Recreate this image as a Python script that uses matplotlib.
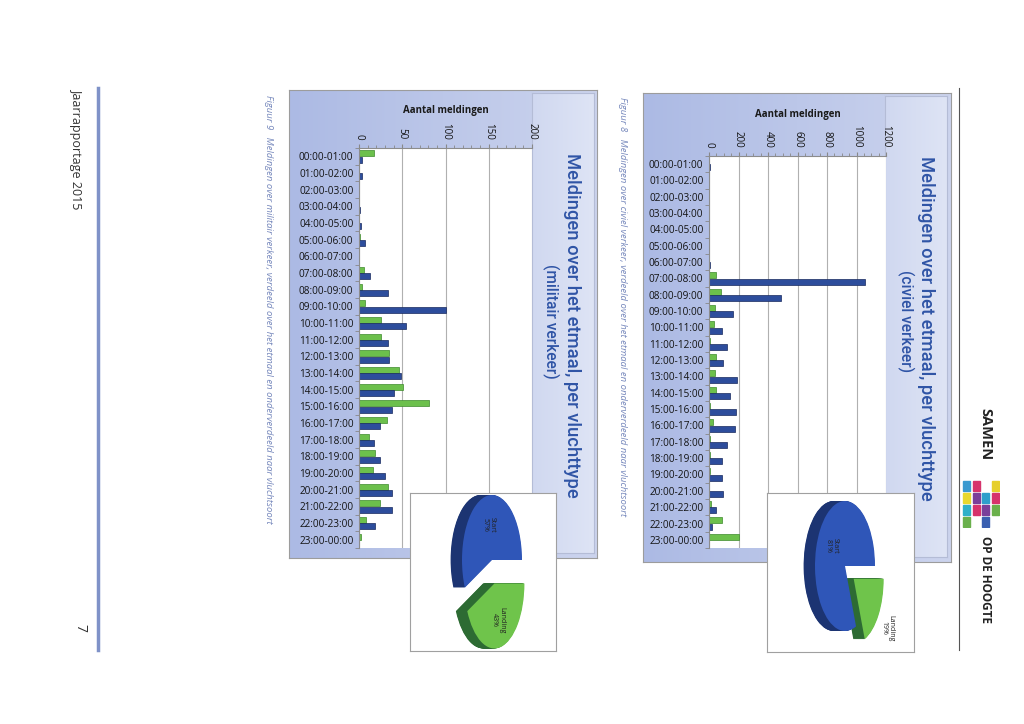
import numpy as np
import matplotlib.pyplot as plt
from matplotlib.lines import Line2D
from matplotlib.patches import Rectangle

W, H = 1024, 724

uren = ["00:00-01:00", "01:00-02:00", "02:00-03:00", "03:00-04:00",
        "04:00-05:00", "05:00-06:00", "06:00-07:00", "07:00-08:00",
        "08:00-09:00", "09:00-10:00", "10:00-11:00", "11:00-12:00",
        "12:00-13:00", "13:00-14:00", "14:00-15:00", "15:00-16:00",
        "16:00-17:00", "17:00-18:00", "18:00-19:00", "19:00-20:00",
        "20:00-21:00", "21:00-22:00", "22:00-23:00", "23:00-00:00"]

# civiel verkeer (Start = blauw, Landing = groen)
civiel_start = [5, 0, 0, 0, 0, 0, 5, 1055, 490, 165, 90, 120,
                95, 190, 140, 185, 175, 120, 90, 90, 97, 48, 20, 2]
civiel_landing = [0, 0, 0, 0, 0, 0, 0, 50, 80, 40, 36, 10,
                  50, 40, 45, 10, 30, 5, 10, 10, 3, 12, 88, 200]

# militair verkeer
militair_start = [3.5, 3, 0, 1, 2, 7, 0, 13, 33, 101, 54, 34,
                  35, 48, 41, 38, 24, 17, 24, 30, 38, 38, 18, 0]
militair_landing = [17, 0, 0, 0, 0.5, 1, 0, 5.5, 4, 7, 26, 26,
                    35, 46, 51, 81, 32, 12, 18, 16, 34, 24, 8, 2]

pie_labels = ["Start", "Landing"]
civiel_pie = [81, 19]
militair_pie = [57, 43]

BLUE = "#2d4d9c"
GREEN = "#6cc04c"
TITLE = "#2f54a6"

fig = plt.figure(figsize=(W / 100, H / 100), dpi=100)
fig.patch.set_facecolor("white")


def px_axes(x0, y0, x1, y1, **kw):
    return fig.add_axes([x0 / W, 1 - y1 / H, (x1 - x0) / W, (y1 - y0) / H], **kw)


def px_text(x, y, s, **kw):
    return fig.text(x / W, 1 - y / H, s, **kw)


def panel(x0, y0, x1, y1, c0, c1, z, edge="#9c9c9c"):
    ax = px_axes(x0, y0, x1, y1, zorder=z)
    g = np.linspace(0, 1, 256)[None, :, None]
    img = (1 - g) * np.array(c0) / 255 + g * np.array(c1) / 255
    ax.imshow(img, aspect="auto", extent=[0, 1, 0, 1])
    ax.set_xticks([])
    ax.set_yticks([])
    for s in ax.spines.values():
        s.set_color(edge)
        s.set_linewidth(0.8)
    return ax


def bar_chart(plot, start, landing, xmax, major, minor):
    ax = px_axes(*plot, zorder=2)
    ax.set_facecolor("white")
    y = np.arange(len(uren))
    ax.barh(y - 0.19, landing, height=0.36, color=GREEN,
            edgecolor="#3d8a2c", linewidth=0.5)
    ax.barh(y + 0.19, start, height=0.36, color=BLUE,
            edgecolor="#18295e", linewidth=0.5)
    ax.set_ylim(len(uren) - 0.5, -0.5)
    ax.set_xlim(0, xmax)
    ax.xaxis.tick_top()
    ax.set_xticks(np.arange(0, xmax + 1, major))
    ax.set_xticks(np.arange(0, xmax + 1, minor), minor=True)
    ax.tick_params(axis="x", which="major", labelsize=7, length=3, pad=3,
                   color="#888888", labelrotation=-90)
    ax.tick_params(axis="x", which="minor", length=2, color="#888888")
    ax.set_yticks(y)
    ax.set_yticklabels(uren)
    ax.set_yticks(np.arange(-0.5, len(uren), 1), minor=True)
    ax.tick_params(axis="y", which="major", length=0, labelsize=7.2, pad=4)
    ax.tick_params(axis="y", which="minor", length=3, color="#888888")
    for lab in ax.get_xticklabels() + ax.get_yticklabels():
        lab.set_family("Open Sans")
        lab.set_color("#141414")
    ax.grid(axis="x", which="major", color="#b0b0b0", linewidth=0.8)
    ax.set_axisbelow(True)
    ax.spines["right"].set_visible(False)
    ax.spines["bottom"].set_visible(False)
    ax.spines["left"].set_color("#8c8c8c")
    ax.spines["top"].set_color("#8c8c8c")
    return ax


def pie3d(box, center, values, explode, lab_r):
    x0, y0, x1, y1 = box
    cx, cy = center
    sx, sy = 30.0, 65.0
    ax = px_axes(x0, y0, x1, y1, zorder=3)
    ax.set_facecolor("white")
    tops = ["#2f56b8", "#6fc44b"]
    sides = ["#1c3472", "#2d6b33"]
    ex = [0, explode]
    for d in np.linspace(0.38, 0.02, 24):
        ax.pie(values, center=(-d, 0), colors=sides, explode=ex, startangle=0,
               frame=True, wedgeprops=dict(linewidth=0))
    ax.pie(values, center=(0, 0), colors=tops, explode=ex, startangle=0,
           frame=True, wedgeprops=dict(linewidth=0))
    ax.set_aspect("auto")
    ax.set_xlim((x0 - cx) / sx, (x1 - cx) / sx)
    ax.set_ylim((cy - y1) / sy, (cy - y0) / sy)
    ax.set_xticks([])
    ax.set_yticks([])
    for s in ax.spines.values():
        s.set_color("#a0a0a0")
        s.set_linewidth(0.8)
    a0 = 0.0
    for lab, v, r in zip(pie_labels, values, lab_r):
        mid = np.deg2rad(a0 + v * 3.6 / 2)
        a0 += v * 3.6
        ax.text(r * np.cos(mid), r * np.sin(mid), f"{lab}\n{v}%",
                rotation=-90, ha="center", va="center", fontsize=5,
                color="#222222", family="Open Sans", linespacing=1.0)
    return ax


def figure_block(box, plot, titlebox, start, landing, xmax, major, minor,
                 title_x, sub_x, title_y, subtitle, xlabel_y,
                 pie_box, pie_center, pie_vals, explode, lab_r,
                 cap_x, cap_y, caption):
    panel(*box, (172, 186, 228), (204, 212, 238), z=1)
    panel(*titlebox, (208, 216, 240), (222, 228, 245), z=1.5, edge="#b4bcd6")
    bar_chart(plot, start, landing, xmax, major, minor)
    px_text((plot[0] + plot[2]) / 2, xlabel_y, "Aantal meldingen",
            ha="center", va="center", fontsize=7, fontweight="bold",
            family="Open Sans", color="#1a1a1a")
    px_text(title_x, title_y, "Meldingen over het etmaal, per vluchttype",
            rotation=-90, ha="center", va="center", fontsize=13.2,
            fontweight="medium", family="Roboto", color=TITLE, zorder=5)
    px_text(sub_x, 321, subtitle, rotation=-90, ha="center", va="center",
            fontsize=11.2, fontweight="medium", family="Roboto", color=TITLE,
            zorder=5)
    pie3d(pie_box, pie_center, pie_vals, explode, lab_r)
    px_text(cap_x, cap_y, caption, rotation=-90, ha="center", va="top",
            fontsize=6.8, style="italic", family="Open Sans", color="#7486bb")


figure_block(box=(643, 93, 951, 562), plot=(709, 156, 886, 548),
             titlebox=(885, 96, 947, 557),
             start=civiel_start, landing=civiel_landing,
             xmax=1200, major=200, minor=50,
             title_x=926, sub_x=906, title_y=328, subtitle="(civiel verkeer)",
             xlabel_y=115,
             pie_box=(767, 493, 914, 652), pie_center=(845, 566),
             pie_vals=civiel_pie, explode=0.35, lab_r=[0.55, 1.7],
             cap_x=622, cap_y=97,
             caption="Figuur 8   Meldingen over civiel verkeer, verdeeld over "
                     "het etmaal en onderverdeeld naar vluchtsoort")

figure_block(box=(289, 90, 597, 558), plot=(359, 148, 532, 548),
             titlebox=(532, 93, 594, 553),
             start=militair_start, landing=militair_landing,
             xmax=200, major=50, minor=10,
             title_x=572, sub_x=551, title_y=325, subtitle="(militair verkeer)",
             xlabel_y=111,
             pie_box=(410, 493, 556, 651), pie_center=(492, 560),
             pie_vals=militair_pie, explode=0.37, lab_r=[0.55, 0.95],
             cap_x=268, cap_y=95,
             caption="Figuur 9   Meldingen over militair verkeer, verdeeld over "
                     "het etmaal en onderverdeeld naar vluchtsoort")

# kop- en voettekst van de pagina
px_text(77, 88, "Jaarrapportage 2015", rotation=-90, ha="center", va="top",
        fontsize=9, family="Open Sans", color="#333333")
px_text(80, 628, "7", rotation=-90, ha="center", va="center",
        fontsize=10, family="Open Sans", color="#333333")
fig.add_artist(Line2D([98 / W, 98 / W], [1 - 88 / H, 1 - 650 / H],
                      transform=fig.transFigure, color="#7f92c8", lw=2.5))
fig.add_artist(Line2D([959 / W, 959 / W], [1 - 88 / H, 1 - 650 / H],
                      transform=fig.transFigure, color="#555555", lw=0.8))

# logo
px_text(985, 408, "SAMEN", rotation=-90, ha="center", va="top",
        fontsize=10.5, fontweight="bold", family="Open Sans", color="#222222")
px_text(985, 536, "OP DE HOOGTE", rotation=-90, ha="center", va="top",
        fontsize=8.5, fontweight="bold", family="Open Sans", color="#222222")
logo = px_axes(962, 480, 1000, 528)
logo.set_xlim(0, 4)
logo.set_ylim(4, 0)
logo.axis("off")
logo_kleuren = [["#3a9ad0", "#d6336c", "", "#e6cf2c"],
                ["#e8d82e", "#7a3f9a", "#2f9fcb", "#d6336c"],
                ["#2fb0c8", "#d6336c", "#7a3f9a", "#6ab04c"],
                ["#6ab04c", "", "#3a5fb0", ""]]
for r, rij in enumerate(logo_kleuren):
    for c, kl in enumerate(rij):
        if kl:
            logo.add_patch(Rectangle((c + 0.15, r + 0.1), 0.7, 0.8, color=kl))

fig.savefig("out.png", dpi=100)
